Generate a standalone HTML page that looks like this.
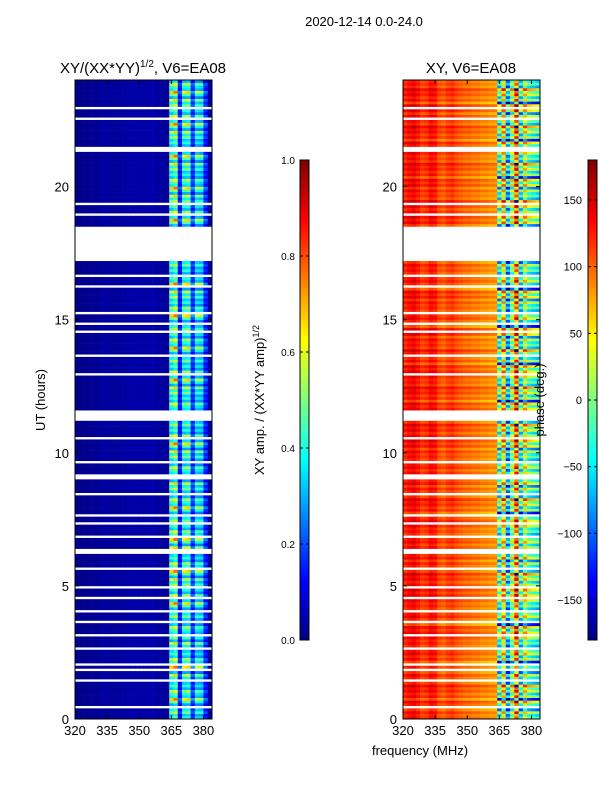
<!DOCTYPE html>
<html><head><meta charset="utf-8"><style>
body{margin:0;background:#fff;font-family:"Liberation Sans",sans-serif}
svg text{font-family:"Liberation Sans",sans-serif;fill:#000}
</style></head><body>
<svg id="fig" width="600" height="800" xmlns="http://www.w3.org/2000/svg">
<text x="364" y="26" font-size="13" text-anchor="middle">2020-12-14 0.0-24.0</text>
<text x="143" y="73" font-size="15" text-anchor="middle">XY/(XX*YY)<tspan font-size="10" dy="-6">1/2</tspan><tspan dy="6">, V6=EA08</tspan></text>
<text x="471" y="73" font-size="15" text-anchor="middle">XY, V6=EA08</text>
<g id="leftHeat"></g>
<g id="rightHeat"></g>
<g id="axes"></g>
<text transform="translate(45,400) rotate(-90)" font-size="13" text-anchor="middle">UT (hours)</text>
<text x="420" y="755" font-size="13" text-anchor="middle">frequency (MHz)</text>
<text transform="translate(264,400) rotate(-90)" font-size="13" text-anchor="middle">XY amp. / (XX*YY amp)<tspan font-size="9" dy="-5">1/2</tspan></text>
<text transform="translate(544,400) rotate(-90)" font-size="13" text-anchor="middle">phase (deg.)</text>
</svg>
<script>
const channels=[320,322,324,326,328,330,332,334,336,338,340,342,344,346,348,350,352,354,356,358,360,362,364,366,368,370,372,374,376,378,380,382];
const ampProfile=[0.01,0.01,0.01,0.02,0.02,0.02,0.03,0.03,0.03,0.03,0.03,0.03,0.04,0.04,0.04,0.04,0.04,0.04,0.04,0.03,0.03,0.03,0.42,0.48,0.15,0.4,0.42,0.18,0.36,0.34,0.16,0.03];
const phaseProfile=[125,135,140,130,115,120,135,130,110,105,115,120,110,105,100,100,95,95,90,90,85,85,-20,60,-60,20,110,-30,40,0,-10,-20];
const rowGain=[1.0,0.8,1.2,0.9,1.4,0.7,1.1,1.6,0.85,1.0,1.3,0.75];
const rowPhase=[0,-20,15,-40,25,-10,30,-60,10,-25,20,-5,40,-30];
const gaps=[[17.2,18.5],[11.2,11.6],[22.9,23.0],[22.5,22.6],[21.3,21.5],[19.3,19.4],[18.9,19.0],[16.2,16.3],[16.6,16.7],[15.2,15.3],[14.8,14.9],[14.5,14.6],[13.6,13.7],[12.9,13.0],[10.5,10.6],[9.6,9.7],[9.0,9.2],[8.4,8.5],[7.6,7.7],[7.3,7.4],[6.8,6.9],[6.2,6.4],[5.6,5.7],[4.9,5.0],[4.5,4.6],[4.0,4.1],[3.6,3.7],[3.1,3.2],[2.6,2.7],[2.0,2.1],[1.8,1.9],[1.4,1.5],[0.4,0.5]];
const xTicks=[320,335,350,365,380];
const yTicks=[0,5,10,15,20];
const ampTicks=[0.0,0.2,0.4,0.6,0.8,1.0];
const phaseTicks=[-150,-100,-50,0,50,100,150];
const NS='http://www.w3.org/2000/svg';
const svg=document.getElementById('fig');
function el(t,a,p){const e=document.createElementNS(NS,t);for(const k in a)e.setAttribute(k,a[k]);(p||svg).appendChild(e);return e;}
function jet(v){v=Math.max(0,Math.min(1,v));const r=Math.max(0,Math.min(1,1.5-Math.abs(4*v-3))),g=Math.max(0,Math.min(1,1.5-Math.abs(4*v-2))),b=Math.max(0,Math.min(1,1.5-Math.abs(4*v-1)));return `rgb(${Math.round(r*255)},${Math.round(g*255)},${Math.round(b*255)})`;}
const panels=[{x0:75,id:'leftHeat'},{x0:403,id:'rightHeat'}];
const y0=719,y1=80,yMax=24;
function ys(h){return y0-(h/yMax)*(y0-y1);}
function xs(p,f){return p.x0+(f-320)/64*137;}
const dt=0.1;
function gapped(h){return gaps.some(g=>h>=g[0]-1e-9&&h<g[1]-1e-9);}
panels.forEach((p,pi)=>{
 const g=document.getElementById(p.id);
 for(let k=0;k<240;k++){const h=k*dt;if(gapped(h))continue;
  for(let j=0;j<channels.length;j++){
   let v;
   if(pi===0){v=ampProfile[j]*(j>=22?rowGain[k%rowGain.length]:1);}
   else{let ph=phaseProfile[j]+(j>=22?rowPhase[k%rowPhase.length]*2:rowPhase[k%rowPhase.length]*0.4);ph=((ph+180)%360+360)%360-180;v=(ph+180)/360;}
   const r=el('rect',{x:xs(p,channels[j]).toFixed(2),y:ys(h+dt).toFixed(2),width:(2/64*137+0.3).toFixed(2),height:((dt/yMax)*(y0-y1)+0.3).toFixed(2),fill:jet(v)},g);
   
   
  }}
});
const ax=document.getElementById('axes');
panels.forEach((p,pi)=>{
 const f=el('rect',{x:p.x0,y:y1,width:137,height:y0-y1,fill:'none',stroke:'#000','stroke-width':1},ax);
 
 
 xTicks.forEach(t=>{const x=xs(p,t);el('line',{x1:x,x2:x,y1:y0,y2:y0-4,stroke:'#000'},ax);el('line',{x1:x,x2:x,y1:y1,y2:y1+4,stroke:'#000'},ax);
  const tx=el('text',{x:x,y:y0+16,'font-size':13,'text-anchor':'middle'},ax);tx.textContent=t;
  
  });
 yTicks.forEach(t=>{const y=ys(t);el('line',{x1:p.x0,x2:p.x0+4,y1:y,y2:y,stroke:'#000'},ax);el('line',{x1:p.x0+137,x2:p.x0+133,y1:y,y2:y,stroke:'#000'},ax);
  const tx=el('text',{x:p.x0-6,y:y+5,'font-size':13,'text-anchor':'end'},ax);tx.textContent=t;
  
  });
});
[{x:300,ticks:ampTicks,lo:0,hi:1,fmt:v=>v.toFixed(1),name:'amp-colorbar',fs:10},{x:588,ticks:phaseTicks,lo:-180,hi:180,fmt:v=>v<0?'\u2212'+(-v):''+v,name:'phase-colorbar',fs:11}].forEach(c=>{
 const g=el('g',{},ax);
 
 
 for(let i=0;i<120;i++)el('rect',{x:c.x,y:640-(i+1)*4,width:9,height:4.3,fill:jet((i+0.5)/120)},g);
 el('rect',{x:c.x,y:160,width:9,height:480,fill:'none',stroke:'#000'},g);
 c.ticks.forEach(t=>{const y=640-(t-c.lo)/(c.hi-c.lo)*480;el('line',{x1:c.x,x2:c.x+3,y1:y,y2:y,stroke:'#000'},g);el('line',{x1:c.x+9,x2:c.x+6,y1:y,y2:y,stroke:'#000'},g);
  const tx=el('text',{x:c.fs===10?c.x-5:c.x-6,y:y+4,'font-size':c.fs,'text-anchor':'end'},g);
  tx.textContent=c.fmt(t);
  
  });
});
</script>
</body></html>
